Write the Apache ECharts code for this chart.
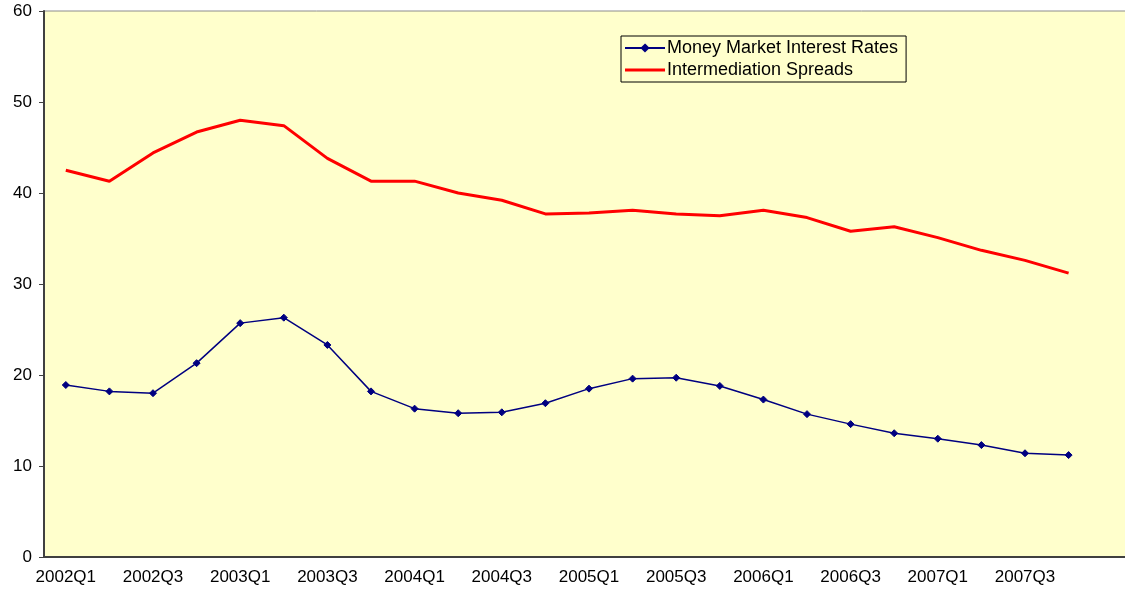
<!DOCTYPE html>
<html>
<head>
<meta charset="utf-8">
<script src="https://cdn.jsdelivr.net/npm/echarts@6/dist/echarts.min.js"></script>
<style>
  html, body { margin: 0; padding: 0; background: #fff; overflow: hidden; }
  /* the plot runs a little past the right edge of the window, as in the original */
  #chart { width: 1134px; height: 590px; }
</style>
</head>
<body>
<div id="chart"></div>
<script>
// quarters (last slot is an empty category, cut off at the right edge)
let quarters = ['2002Q1','2002Q2','2002Q3','2002Q4','2003Q1','2003Q2','2003Q3','2003Q4',
  '2004Q1','2004Q2','2004Q3','2004Q4','2005Q1','2005Q2','2005Q3','2005Q4',
  '2006Q1','2006Q2','2006Q3','2006Q4','2007Q1','2007Q2','2007Q3','2007Q4',''];

let money_market = [18.9,18.2,18.0,21.3,25.7,26.3,23.3,18.2,
  16.3,15.8,15.9,16.9,18.5,19.6,19.7,18.8,
  17.3,15.7,14.6,13.6,13.0,12.3,11.4,11.2];

let spreads = [42.5,41.3,44.4,46.7,48.0,47.4,43.8,41.3,
  41.3,40.0,39.2,37.7,37.8,38.1,37.7,37.5,
  38.1,37.3,35.8,36.3,35.1,33.7,32.6,31.2];

let font = 'Liberation Sans, Arial, sans-serif';

let chart = echarts.init(document.getElementById('chart'));

let option = {
  animation: false,
  backgroundColor: '#fff',
  textStyle: { fontFamily: font },
  grid: {
    left: 44,
    top: 11,
    bottom: 33,
    right: 0,
    show: true,
    backgroundColor: '#FFFFCC',
    borderColor: '#8c8c8c',
    borderWidth: 1
  },
  legend: {
    orient: 'vertical',
    left: 621,
    top: 36,
    padding: [3, 8, 3, 3],
    itemWidth: 40,
    itemHeight: 8,
    itemGap: 4,
    borderColor: '#000',
    borderWidth: 1,
    backgroundColor: '#FFFFCC',
    textStyle: { fontFamily: font, fontSize: 18, color: '#000', padding: [0, 0, 0, -3] },
    data: [
      { name: 'Money Market Interest Rates' },
      { name: 'Intermediation Spreads', icon: 'path://M0,0H40V3H0Z' }
    ]
  },
  xAxis: {
    type: 'category',
    data: quarters,
    boundaryGap: true,
    axisLine: { lineStyle: { color: '#404040', width: 2 } },
    axisTick: { interval: 0, length: 5, lineStyle: { color: '#404040' } },
    axisLabel: { interval: 1, color: '#000', fontSize: 17, fontFamily: font, margin: 12 },
    splitLine: { show: false }
  },
  yAxis: {
    type: 'value',
    min: 0,
    max: 60,
    interval: 10,
    axisLine: { show: true, lineStyle: { color: '#404040', width: 2 } },
    axisTick: { show: true, length: 5, lineStyle: { color: '#404040' } },
    axisLabel: { color: '#000', fontSize: 17, fontFamily: font, margin: 12 },
    splitLine: { show: false }
  },
  series: [
    {
      name: 'Money Market Interest Rates',
      type: 'line',
      data: money_market,
      symbol: 'diamond',
      symbolSize: 7,
      showSymbol: true,
      itemStyle: { color: '#000080', borderColor: '#000080', borderWidth: 1 },
      lineStyle: { color: '#000080', width: 1.5 }
    },
    {
      name: 'Intermediation Spreads',
      type: 'line',
      data: spreads,
      showSymbol: false,
      symbol: 'none',
      itemStyle: { color: '#FF0000' },
      lineStyle: { color: '#FF0000', width: 3 }
    }
  ]
};
chart.setOption(option);
</script>
</body>
</html>
